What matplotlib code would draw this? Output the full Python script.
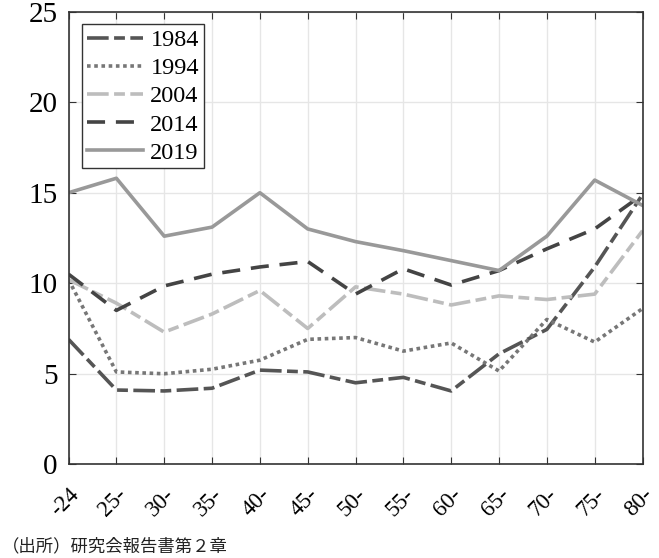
import matplotlib
matplotlib.use("Agg")
import matplotlib.pyplot as plt
import matplotlib.transforms as mtransforms

ages = ["-24", "25-", "30-", "35-", "40-", "45-", "50-", "55-", "60-", "65-", "70-", "75-", "80-"]
y1984 = [6.9, 4.1, 4.05, 4.2, 5.2, 5.1, 4.5, 4.8, 4.05, 6.1, 7.45, 10.9, 14.9]
y1994 = [10.2, 5.1, 5.0, 5.25, 5.75, 6.9, 7.0, 6.25, 6.7, 5.15, 8.0, 6.75, 8.6]
y2004 = [10.2, 8.9, 7.3, 8.3, 9.6, 7.5, 9.8, 9.4, 8.8, 9.3, 9.1, 9.4, 12.9]
y2014 = [10.5, 8.5, 9.85, 10.5, 10.9, 11.2, 9.4, 10.8, 9.9, 10.7, 11.9, 13.0, 14.9]
y2019 = [15.0, 15.8, 12.6, 13.1, 15.0, 13.0, 12.3, 11.8, 11.25, 10.7, 12.6, 15.7, 14.3]

plt.rcParams["font.family"] = "serif"
plt.rcParams["font.serif"] = ["Liberation Serif", "DejaVu Serif"]

fig = plt.figure(figsize=(6.59, 5.58), dpi=100)
ax = fig.add_axes([0.104, 0.168, 0.871, 0.811])

x = list(range(len(ages)))
ax.plot(x, y1984, color="#555555", lw=2.6, dashes=(6, 1.5, 3, 1.5), label="1984")
ax.plot(x, y1994, color="#777777", lw=2.6, dashes=(1, 1), label="1994")
ax.plot(x, y2004, color="#bdbdbd", lw=2.6, dashes=(6, 1.5, 3, 1.5), label="2004")
ax.plot(x, y2014, color="#444444", lw=2.6, dashes=(5, 3), label="2014")
ax.plot(x, y2019, color="#999999", lw=2.6, label="2019")

ax.set_xlim(0, len(ages) - 1)
ax.set_ylim(0, 25)
ax.set_yticks([0, 5, 10, 15, 20, 25])
ax.set_yticklabels(["0", "5", "10", "15", "20", "25"], fontsize=21)
ax.set_xticks(x)
ax.set_xticklabels(ages, rotation=45, fontsize=16.5, ha="right", va="top",
                   rotation_mode="anchor")
# nudge rotated labels a bit to the right, like the original
shift = mtransforms.ScaledTranslation(6 / 72, 0, fig.dpi_scale_trans)
for lab in ax.get_xticklabels():
    lab.set_transform(lab.get_transform() + shift)
ax.tick_params(direction="in", top=True, right=True, length=5, color="#333333")
ax.tick_params(axis="y", pad=8)
ax.tick_params(axis="x", pad=14)
ax.grid(True, color="#e6e6e6", lw=1)
for s in ax.spines.values():
    s.set_color("#333333")
    s.set_linewidth(1.2)

leg = ax.legend(loc="upper left", bbox_to_anchor=(0.024, 0.972),
                frameon=True, fancybox=False, framealpha=1,
                handlelength=2.3, handletextpad=0.3,
                labelspacing=0.25, borderpad=0.2, borderaxespad=0,
                prop={"family": "Liberation Serif", "size": 17.5})
leg.get_frame().set_edgecolor("#333333")
leg.get_frame().set_linewidth(1.0)

fig.text(0.003, 0.012, "（出所）研究会報告書第２章", fontsize=12.5,
         family=["Noto Sans CJK JP", "DejaVu Sans"], color="#222222")

fig.savefig("out.png", dpi=100)
